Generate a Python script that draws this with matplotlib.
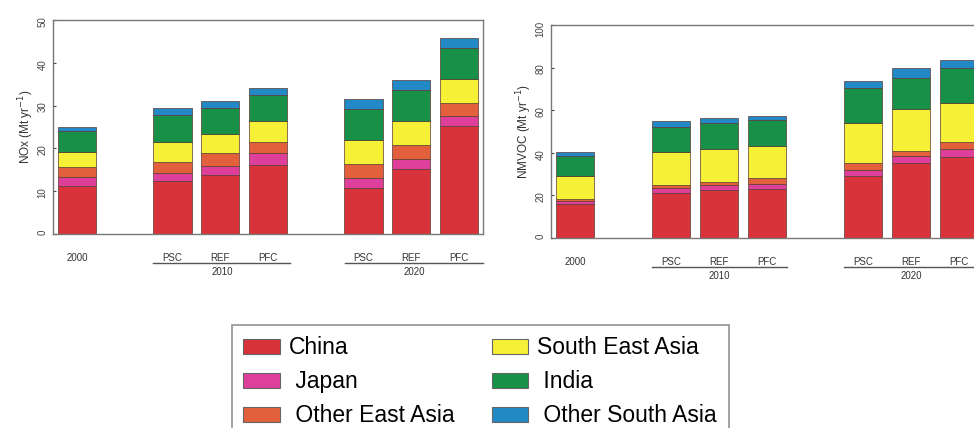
import numpy as np
import matplotlib
matplotlib.use("Agg")
import matplotlib.pyplot as plt
from matplotlib.patches import Patch

plt.rcParams['font.family'] = ['Liberation Sans', 'DejaVu Sans']

# categories
cat_labels = ["2000", "PSC", "REF", "PFC", "PSC", "REF", "PFC"]
cat_pos = [0, 2, 3, 4, 6, 7, 8]
groups = ["2010", "2020"]
regions = ["China", "Japan", "Other East Asia", "South East Asia", "India", "Other South Asia"]
legend_labels = ["China", " Japan", " Other East Asia", "South East Asia", " India", " Other South Asia"]
colors = ["#d8333a", "#de3f9a", "#e2603c", "#f6f136", "#179048", "#2288c6"]

# cumulative tops (Mt/yr)
nox_tops = {
    "China":            [11.1, 12.3, 13.8, 16.2, 10.7, 15.2, 25.3],
    "Japan":            [13.4, 14.2, 16.0, 18.9, 13.1, 17.5, 27.5],
    "Other East Asia":  [15.6, 16.8, 18.9, 21.5, 16.3, 20.8, 30.6],
    "South East Asia":  [19.1, 21.6, 23.4, 26.3, 22.0, 26.5, 36.3],
    "India":            [24.0, 27.8, 29.4, 32.5, 29.2, 33.7, 43.5],
    "Other South Asia": [25.1, 29.4, 31.1, 34.0, 31.5, 36.0, 45.9],
}
voc_tops = {
    "China":            [16.0, 21.0, 22.5, 23.0, 29.0, 35.0, 38.0],
    "Japan":            [17.5, 23.5, 25.0, 25.5, 32.0, 38.5, 42.0],
    "Other East Asia":  [18.5, 25.0, 26.5, 28.0, 35.2, 41.0, 45.0],
    "South East Asia":  [28.9, 40.3, 41.7, 43.0, 53.9, 60.5, 63.6],
    "India":            [38.6, 51.9, 53.9, 55.5, 70.3, 75.0, 79.7],
    "Other South Asia": [40.6, 54.7, 56.4, 57.5, 73.9, 80.0, 83.4],
}

fig = plt.figure(figsize=(9.74, 4.28), dpi=100)
ax1 = fig.add_axes([0.0544, 0.4533, 0.4415, 0.5])
ax2 = fig.add_axes([0.5657, 0.4439, 0.4435, 0.4977])


def draw(ax, tops, ymax, ylabel, group_spans):
    prev = np.zeros(len(cat_pos))
    for r, c in zip(regions, colors):
        top = np.array(tops[r])
        ax.bar(cat_pos, top - prev, bottom=prev, width=0.8, color=c,
               edgecolor="#5a3a30", linewidth=0.5)
        prev = top
    ax.set_xlim(-0.5, 8.5)
    ax.set_ylim(0, ymax)
    ax.set_yticks(np.linspace(0, ymax, 6))
    ax.tick_params(axis="y", direction="in", length=2, labelsize=7,
                   labelrotation=90, colors="#444444", pad=4)
    ax.set_xticks(cat_pos)
    ax.set_xticklabels(cat_labels, fontsize=7, color="#333333")
    ax.tick_params(axis="x", length=0, pad=14)
    for s in ax.spines.values():
        s.set_color("#777777")
        s.set_linewidth(1.0)
    ax.set_ylabel(ylabel, fontsize=8.5, color="#333333", labelpad=1)
    for g, (x0, x1) in zip(groups, group_spans):
        ax.plot([x0, x1], [-0.136, -0.136], color="#555555", lw=1.0,
                transform=ax.get_xaxis_transform(), clip_on=False)
        ax.text((x0 + x1) / 2 if x1 < 8.6 else 7.0, -0.178, g, ha="center", va="center",
                fontsize=7, color="#333333", transform=ax.get_xaxis_transform())


draw(ax1, nox_tops, 50, "NOx (Mt yr$^{-1}$)", [(1.6, 4.47), (5.62, 8.49)])
draw(ax2, voc_tops, 100, "NMVOC (Mt yr$^{-1}$)", [(1.6, 4.42), (5.6, 8.6)])

handles = [Patch(facecolor=c, edgecolor="#666666", linewidth=0.8) for c in colors]
leg = fig.legend(handles, legend_labels, ncol=2, loc="upper left",
                 bbox_to_anchor=(232 / 974, 1 - 325 / 428), fontsize=16.5,
                 frameon=True, fancybox=False, handlelength=1.6, handleheight=0.65,
                 handletextpad=0.4, columnspacing=1.6, labelspacing=0.48,
                 borderpad=0.5, borderaxespad=0)
leg.get_frame().set_edgecolor("#777777")
leg.get_frame().set_linewidth(1.2)

fig.savefig("out.png", dpi=100)
